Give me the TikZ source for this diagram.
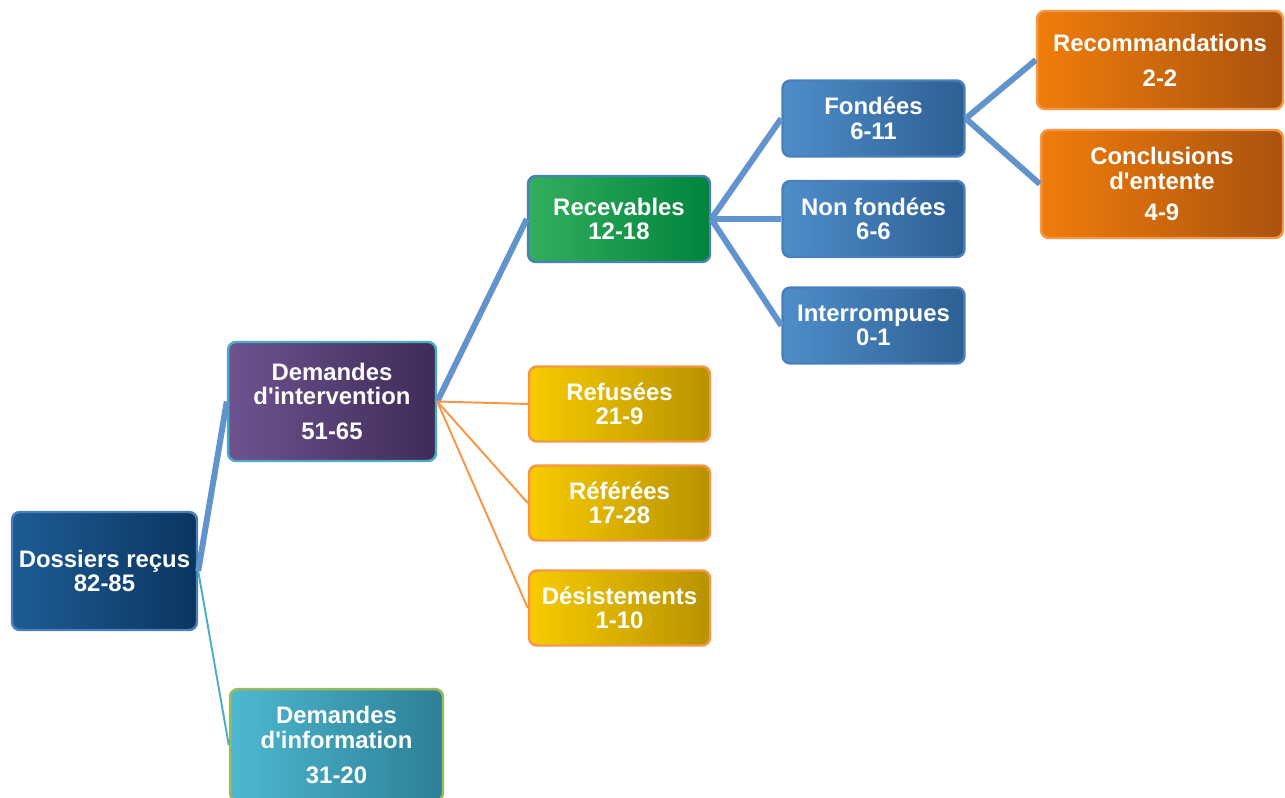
\documentclass[tikz,border=0pt]{standalone}
\usepackage{fontspec}
\setmainfont{Liberation Sans}

\definecolor{dblauL}{HTML}{1D5C94}
\definecolor{dblauR}{HTML}{0B3560}
\definecolor{lilaL}{HTML}{6E5390}
\definecolor{lilaR}{HTML}{3E2B57}
\definecolor{tuerkisL}{HTML}{4DB8D0}
\definecolor{tuerkisR}{HTML}{2C7F96}
\definecolor{gruenL}{HTML}{33AE5E}
\definecolor{gruenR}{HTML}{00843C}
\definecolor{gelbL}{HTML}{F8CB00}
\definecolor{gelbR}{HTML}{B89200}
\definecolor{blauL}{HTML}{4F8ECB}
\definecolor{blauR}{HTML}{2D5F92}
\definecolor{orangeL}{HTML}{F07D0A}
\definecolor{orangeR}{HTML}{A9520F}
\definecolor{randblau}{HTML}{4A7FBA}
\definecolor{randtuerkis}{HTML}{4BACC6}
\definecolor{randgruen}{HTML}{9BBB59}
\definecolor{randorange}{HTML}{F79646}
\definecolor{astblau}{HTML}{6194CC}

\begin{document}
\begin{tikzpicture}[x=0.02cm, y=-0.02cm,
  kasten/.style={draw, rounded corners=4.5pt, line width=1.4pt, inner sep=0pt,
    align=center, text=white, font=\bfseries\fontsize{13.6}{14}\selectfont},
  ast/.style={astblau, line width=3.4pt},
  duenn/.style={line width=1.1pt}]
  \useasboundingbox (0,0) rectangle (1285,798);

  % Erste Ebene
  \node[kasten, draw=randblau, left color=dblauL, right color=dblauR,
    minimum width=3.7cm, minimum height=2.36cm] (doss) at (104.5,571)
    {Dossiers reçus\\82-85};
  \node[kasten, draw=randtuerkis, left color=lilaL, right color=lilaR,
    minimum width=4.16cm, minimum height=2.38cm] (interv) at (332,401.5)
    {Demandes\\d\textquotesingle intervention\\[6pt]51-65};
  \node[kasten, draw=randgruen, left color=tuerkisL, right color=tuerkisR,
    minimum width=4.26cm, minimum height=2.24cm] (info) at (336.5,745)
    {Demandes\\d\textquotesingle information\\[6pt]31-20};

  % Zweite Ebene
  \node[kasten, draw=randblau, left color=gruenL, right color=gruenR,
    minimum width=3.64cm, minimum height=1.72cm] (recev) at (619,219)
    {Recevables\\12-18};
  \foreach \n/\y/\t/\z in {refus/404/Refusées/21-9, refer/503/Référées/17-28,
                           desist/608/Désistements/1-10} {
    \node[kasten, draw=randorange, left color=gelbL, right color=gelbR,
      minimum width=3.62cm, minimum height=1.5cm] (\n) at (619.5,\y) {\t\\\z};
  }

  % Dritte Ebene
  \foreach \n/\y/\t/\z in {fond/118.5/Fondées/6-11, nonfond/219/Non fondées/6-6,
                           interr/325.5/Interrompues/0-1} {
    \node[kasten, draw=randblau, left color=blauL, right color=blauR,
      minimum width=3.64cm, minimum height=1.52cm] (\n) at (873.5,\y) {\t\\\z};
  }

  % Vierte Ebene
  \node[kasten, draw=randorange, left color=orangeL, right color=orangeR,
    minimum width=4.92cm, minimum height=1.96cm] (recom) at (1160,60)
    {Recommandations\\[6pt]2-2};
  \node[kasten, draw=randorange, left color=orangeL, right color=orangeR,
    minimum width=4.84cm, minimum height=2.16cm] (concl) at (1162,184)
    {Conclusions\\d\textquotesingle entente\\[3.5pt]4-9};

  % Verbindungen
  \draw[ast] (doss.east) -- (interv.west);
  \draw[duenn, randtuerkis] (doss.east) -- (info.west);
  \draw[ast] (interv.east) -- (recev.west);
  \foreach \z in {refus, refer, desist} {
    \draw[duenn, randorange] (interv.east) -- (\z.west);
  }
  \foreach \z in {fond, nonfond, interr} {
    \draw[ast] (recev.east) -- (\z.west);
  }
  \draw[ast] (fond.east) -- (recom.west);
  \draw[ast] (fond.east) -- (concl.west);

\end{tikzpicture}
\end{document}
